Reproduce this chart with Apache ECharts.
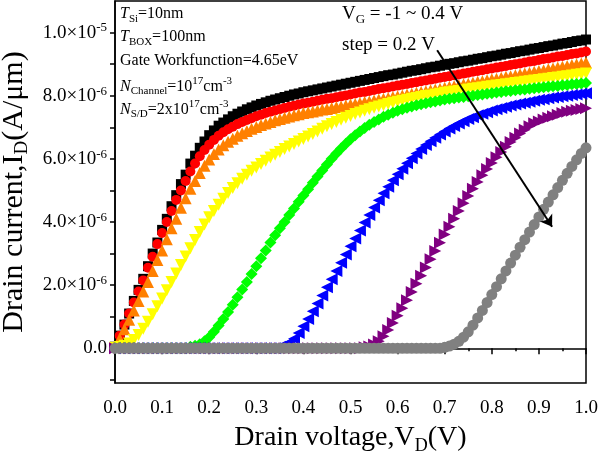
<!DOCTYPE html>
<html>
<head>
<meta charset="utf-8">
<script src="https://cdn.jsdelivr.net/npm/echarts@6/dist/echarts.min.js"></script>
<style>
  html, body { margin: 0; padding: 0; background: #fff; }
  #chart { width: 598px; height: 456px; }
</style>
</head>
<body>
<div id="chart"></div>
<script>
// drain voltage samples (V)
var vd = [0,0.01,0.02,0.03,0.04,0.05,0.06,0.07,0.08,0.09,0.1,0.11,0.12,0.13,0.14,0.15,0.16,0.17,0.18,0.19,0.2,
  0.21,0.22,0.23,0.24,0.25,0.26,0.27,0.28,0.29,0.3,0.31,0.32,0.33,0.34,0.35,0.36,0.37,0.38,0.39,0.4,
  0.41,0.42,0.43,0.44,0.45,0.46,0.47,0.48,0.49,0.5,0.51,0.52,0.53,0.54,0.55,0.56,0.57,0.58,0.59,0.6,
  0.61,0.62,0.63,0.64,0.65,0.66,0.67,0.68,0.69,0.7,0.71,0.72,0.73,0.74,0.75,0.76,0.77,0.78,0.79,0.8,
  0.81,0.82,0.83,0.84,0.85,0.86,0.87,0.88,0.89,0.9,0.91,0.92,0.93,0.94,0.95,0.96,0.97,0.98,0.99,1];

// drain current, units of 1e-6 A/um
var id_04 = [0.05,0.4,0.75,1.1,1.5,1.85,2.2,2.6,3.0,3.35,3.75,4.1,4.5,4.85,5.2,5.5,5.85,6.1,6.35,6.55,6.75,
  6.9,7.05,7.15,7.25,7.35,7.43,7.5,7.57,7.63,7.69,7.74,7.79,7.84,7.88,7.92,7.96,8.0,8.04,8.07,8.11,
  8.14,8.17,8.2,8.23,8.26,8.29,8.32,8.35,8.38,8.41,8.44,8.47,8.5,8.53,8.56,8.59,8.62,8.65,8.67,8.7,
  8.73,8.76,8.79,8.81,8.84,8.87,8.9,8.92,8.95,8.98,9.01,9.03,9.06,9.09,9.11,9.14,9.17,9.19,9.22,9.25,
  9.27,9.3,9.33,9.35,9.38,9.41,9.43,9.46,9.49,9.51,9.54,9.57,9.59,9.62,9.65,9.67,9.7,9.73,9.75,9.78];
var id_02 = [0.05,0.4,0.75,1.1,1.45,1.8,2.15,2.55,2.9,3.3,3.65,4.0,4.35,4.7,5.0,5.3,5.6,5.85,6.08,6.28,6.45,
  6.6,6.73,6.84,6.94,7.02,7.1,7.17,7.23,7.29,7.35,7.4,7.45,7.49,7.53,7.57,7.61,7.65,7.68,7.72,7.75,
  7.78,7.81,7.84,7.87,7.9,7.92,7.95,7.98,8.01,8.04,8.07,8.1,8.12,8.15,8.18,8.21,8.24,8.26,8.29,8.32,
  8.35,8.37,8.4,8.43,8.46,8.48,8.51,8.54,8.57,8.59,8.62,8.65,8.67,8.7,8.73,8.76,8.78,8.81,8.84,8.86,
  8.89,8.92,8.94,8.97,9.0,9.02,9.05,9.08,9.1,9.13,9.16,9.18,9.21,9.24,9.26,9.29,9.32,9.34,9.37,9.4];
var id_00 = [0.05,0.3,0.6,0.9,1.2,1.5,1.8,2.1,2.45,2.8,3.1,3.45,3.8,4.1,4.45,4.75,5.05,5.3,5.55,5.78,5.98,
  6.15,6.3,6.43,6.54,6.64,6.73,6.81,6.88,6.95,7.01,7.07,7.12,7.17,7.22,7.26,7.3,7.34,7.38,7.41,7.45,
  7.48,7.5,7.53,7.56,7.58,7.61,7.64,7.66,7.69,7.72,7.74,7.77,7.8,7.82,7.85,7.88,7.9,7.93,7.96,7.98,
  8.01,8.04,8.06,8.09,8.12,8.14,8.17,8.2,8.22,8.25,8.28,8.3,8.33,8.36,8.38,8.41,8.44,8.46,8.49,8.52,
  8.54,8.57,8.6,8.62,8.65,8.68,8.7,8.73,8.76,8.78,8.81,8.84,8.86,8.89,8.92,8.94,8.97,9.0,9.02,9.05];
var id_m02 = [0.02,0.04,0.08,0.15,0.26,0.42,0.62,0.84,1.08,1.33,1.58,1.84,2.1,2.37,2.64,2.91,3.17,3.43,3.68,3.92,4.15,
  4.35,4.55,4.74,4.92,5.08,5.23,5.37,5.5,5.62,5.73,5.84,5.94,6.04,6.13,6.22,6.31,6.39,6.47,6.55,6.63,
  6.71,6.79,6.87,6.95,7.03,7.1,7.17,7.24,7.3,7.36,7.42,7.47,7.52,7.57,7.62,7.66,7.7,7.74,7.78,7.81,
  7.84,7.87,7.9,7.93,7.96,7.99,8.01,8.04,8.06,8.09,8.11,8.13,8.15,8.17,8.2,8.22,8.24,8.26,8.28,8.3,
  8.32,8.34,8.36,8.38,8.4,8.42,8.44,8.46,8.48,8.5,8.52,8.54,8.56,8.58,8.6,8.62,8.64,8.66,8.68,8.7];
var id_m04 = [0,0,0,0,0,0,0,0,0,0,0,0,0,0,0,0,0.05,0.08,0.13,0.22,0.35,
  0.52,0.72,0.93,1.15,1.38,1.62,1.86,2.1,2.35,2.6,2.85,3.1,3.35,3.58,3.8,4.0,4.22,4.43,4.64,4.84,
  5.04,5.24,5.44,5.63,5.82,6.0,6.17,6.33,6.48,6.62,6.75,6.87,6.98,7.08,7.17,7.25,7.33,7.4,7.46,7.52,
  7.57,7.62,7.66,7.7,7.73,7.76,7.79,7.82,7.85,7.88,7.9,7.92,7.94,7.96,7.98,8.0,8.02,8.04,8.06,8.08,
  8.1,8.12,8.14,8.15,8.17,8.19,8.2,8.22,8.24,8.25,8.27,8.28,8.3,8.31,8.33,8.34,8.36,8.37,8.39,8.4];
var id_m06 = [0,0,0,0,0,0,0,0,0,0,0,0,0,0,0,0,0,0,0,0,0,
  0,0,0,0,0,0,0,0,0,0,0,0,0,0,0.05,0.1,0.18,0.3,0.48,0.7,
  0.93,1.17,1.42,1.67,1.93,2.19,2.45,2.71,2.97,3.23,3.48,3.73,3.98,4.22,4.46,4.69,4.91,5.12,5.32,5.51,
  5.69,5.86,6.02,6.17,6.31,6.44,6.56,6.67,6.77,6.87,6.96,7.04,7.12,7.19,7.26,7.32,7.38,7.43,7.48,7.53,
  7.57,7.61,7.65,7.69,7.72,7.75,7.78,7.81,7.84,7.87,7.89,7.92,7.94,7.96,7.98,8.0,8.02,8.04,8.06,8.08];
var id_m08 = [0,0,0,0,0,0,0,0,0,0,0,0,0,0,0,0,0,0,0,0,0,
  0,0,0,0,0,0,0,0,0,0,0,0,0,0,0,0,0,0,0,0,
  0,0,0,0,0,0,0,0,0,0,0,0,0.03,0.06,0.12,0.22,0.38,0.58,0.8,1.03,
  1.27,1.52,1.78,2.04,2.3,2.56,2.82,3.08,3.34,3.6,3.85,4.1,4.35,4.59,4.82,5.05,5.27,5.48,5.68,5.87,
  6.05,6.22,6.38,6.53,6.67,6.8,6.92,7.03,7.13,7.18,7.25,7.3,7.35,7.4,7.45,7.49,7.52,7.55,7.58,7.6];
var id_m10 = [0,0,0,0,0,0,0,0,0,0,0,0,0,0,0,0,0,0,0,0,0,
  0,0,0,0,0,0,0,0,0,0,0,0,0,0,0,0,0,0,0,0,
  0,0,0,0,0,0,0,0,0,0,0,0,0,0,0,0,0,0,0,0,
  0,0,0,0,0,0,0,0,0,0.03,0.07,0.13,0.22,0.35,0.52,0.73,0.96,1.2,1.45,1.7,
  1.95,2.2,2.45,2.7,2.95,3.2,3.44,3.68,3.92,4.16,4.4,4.63,4.86,5.09,5.32,5.54,5.76,5.97,6.17,6.35];

var yLabels = [0,2,4,6,8,10];
var yTicks = [-1,0,1,2,3,4,5,6,7,8,9,10];

// arrow VG direction (data coords)
var arrowFrom = [0.684, 9.44];
var arrowTo = [0.928, 3.85];

var curves = [
  { name: 'VG=0.4', data: id_04, color: '#000000', symbol: 'rect', size: 10, rot: 0 },
  { name: 'VG=0.2', data: id_02, color: '#ff0000', symbol: 'circle', size: 10, rot: 0 },
  { name: 'VG=0', data: id_00, color: '#ff8000', symbol: 'triangle', size: 12, rot: 0 },
  { name: 'VG=-0.2', data: id_m02, color: '#ffff00', symbol: 'triangle', size: 12, rot: 180 },
  { name: 'VG=-0.4', data: id_m04, color: '#00ff00', symbol: 'diamond', size: 12, rot: 0 },
  { name: 'VG=-0.6', data: id_m06, color: '#0000ff', symbol: 'triangle', size: 12, rot: 90 },
  { name: 'VG=-0.8', data: id_m08, color: '#800080', symbol: 'triangle', size: 12, rot: -90 },
  { name: 'VG=-1.0', data: id_m10, color: '#808080', symbol: 'circle', size: 11, rot: 0 }
];

var FONT = '"Liberation Serif", "Times New Roman", serif';

var series = curves.map(function (c) {
  return {
    name: c.name,
    type: 'scatter',
    symbol: c.symbol,
    symbolSize: c.size,
    symbolRotate: c.rot,
    itemStyle: { color: c.color, opacity: 1 },
    data: c.data.map(function (v, i) { return [vd[i], v]; }),
    silent: true
  };
});

// arrow
series.push({
  type: 'line',
  data: [],
  silent: true,
  markLine: {
    silent: true,
    symbol: ['none', 'arrow'],
    symbolSize: 11,
    label: { show: false },
    lineStyle: { color: '#000', width: 2, type: 'solid' },
    data: [[{ coord: arrowFrom }, { coord: arrowTo }]]
  }
});

var sub = { fontFamily: FONT, fontSize: 11, color: '#000', verticalAlign: 'bottom', lineHeight: 11 };
var sup = { fontFamily: FONT, fontSize: 11, color: '#000', verticalAlign: 'top', lineHeight: 11 };
var txt = { fontFamily: FONT, fontSize: 16, color: '#000', lineHeight: 21 };
var itx = { fontFamily: FONT, fontSize: 16, color: '#000', lineHeight: 21, fontStyle: 'italic' };
var infoRich = { n: txt, i: itx, sb: sub, sp: sup };

function infoText(top, text) {
  return { type: 'text', left: 120, top: top, style: { text: text, rich: infoRich } };
}

var chart = echarts.init(document.getElementById('chart'));
var option = {
  animation: false,
  backgroundColor: '#fff',
  grid: {
    left: 115, right: 12, top: 1, bottom: 73,
    outerBoundsMode: 'none', containLabel: false,
    show: true, borderColor: '#000', borderWidth: 1.5
  },
  xAxis: {
    type: 'value', min: 0, max: 1, interval: 0.1,
    name: '{a|Drain voltage,V}{b|D}{a|(V)}',
    nameLocation: 'middle', nameGap: 38,
    nameTextStyle: {
      rich: {
        a: { fontFamily: FONT, fontSize: 28, color: '#000', lineHeight: 34 },
        b: { fontFamily: FONT, fontSize: 18, color: '#000', verticalAlign: 'bottom', lineHeight: 16 }
      }
    },
    axisLine: { lineStyle: { color: '#000', width: 1.5 } },
    axisTick: { inside: false, length: 6, lineStyle: { color: '#000', width: 1.5 } },
    minorTick: { show: true, splitNumber: 2, length: 3, lineStyle: { color: '#000', width: 1.5 } },
    splitLine: { show: false },
    axisLabel: {
      margin: 16, color: '#000', fontFamily: FONT, fontSize: 19,
      formatter: function (v) { return v.toFixed(1); }
    }
  },
  yAxis: {
    type: 'value', min: -1.1, max: 11,
    name: '{a|Drain current,I}{b|D}{a|(A/\u03bcm)}',
    nameLocation: 'middle', nameGap: 72, nameRotate: 90,
    nameTextStyle: {
      rich: {
        a: { fontFamily: FONT, fontSize: 30, color: '#000', lineHeight: 36 },
        b: { fontFamily: FONT, fontSize: 19, color: '#000', verticalAlign: 'bottom', lineHeight: 17 }
      }
    },
    axisLine: { show: true, lineStyle: { color: '#000', width: 1.5 } },
    axisTick: { show: true, inside: false, length: 5, customValues: yTicks, lineStyle: { color: '#000', width: 1.5 } },
    splitLine: { show: false },
    axisLabel: {
      margin: 8, customValues: yLabels,
      formatter: function (v) {
        if (Math.abs(v) < 1e-9) return '{a|0.0}';
        if (v >= 10) return '{a|' + (v / 10).toFixed(1) + '\u00d710}{s|-5}';
        return '{a|' + v.toFixed(1) + '\u00d710}{s|-6}';
      },
      rich: {
        a: { fontFamily: FONT, fontSize: 19, color: '#000', lineHeight: 22 },
        s: { fontFamily: FONT, fontSize: 13, color: '#000', verticalAlign: 'top', lineHeight: 13 }
      }
    }
  },
  graphic: [
    infoText(6, '{i|T}{sb|Si}{n|=10nm}'),
    infoText(29, '{i|T}{sb|BOX}{n|=100nm}'),
    infoText(53, '{n|Gate Workfunction=4.65eV}'),
    infoText(76, '{i|N}{sb|Channel}{n|=10}{sp|17}{n|cm}{sp|-3}'),
    infoText(99, '{i|N}{sb|S/D}{n|=2x10}{sp|17}{n|cm}{sp|-3}'),
    {
      type: 'text', left: 342, top: 5,
      style: {
        text: '{n|V}{sb|G}{n| = -1 ~ 0.4 V}',
        rich: {
          n: { fontFamily: FONT, fontSize: 19, color: '#000', lineHeight: 24 },
          sb: { fontFamily: FONT, fontSize: 13, color: '#000', verticalAlign: 'bottom', lineHeight: 12 }
        }
      }
    },
    {
      type: 'text', left: 342, top: 36,
      style: { text: 'step = 0.2 V', fontFamily: FONT, fontSize: 19, fill: '#000' }
    }
  ],
  series: series
};
chart.setOption(option);
</script>
</body>
</html>
